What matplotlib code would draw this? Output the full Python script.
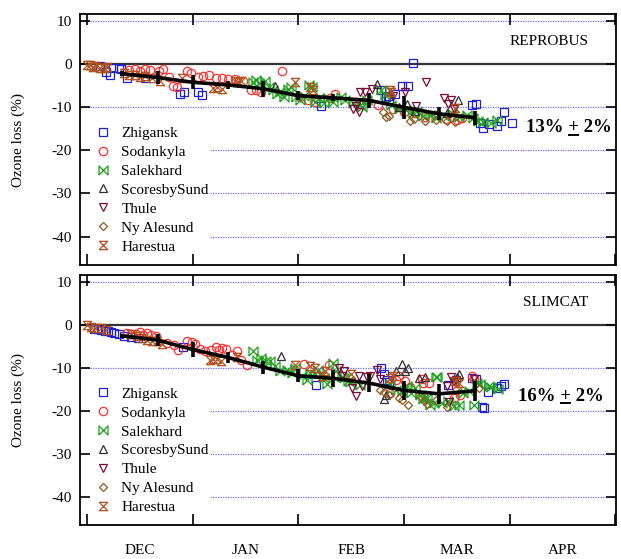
"""Ozone loss at Arctic sonde stations vs. REPROBUS / SLIMCAT passive tracer."""
import matplotlib
matplotlib.use("Agg")
import matplotlib.pyplot as plt
from matplotlib.path import Path

plt.rcParams["font.family"] = ["Liberation Serif", "DejaVu Serif"]

# x axis is in months since 1 December
month_labels = ["DEC", "JAN", "FEB", "MAR", "APR"]
month_centres = [0.5, 1.5, 2.5, 3.5, 4.5]
month_edges = [0, 1, 2, 3, 4, 5]
y_ticks = [10, 0, -10, -20, -30, -40]

stations = ["Zhigansk", "Sodankyla", "Salekhard", "ScoresbySund",
            "Thule", "Ny Alesund", "Harestua"]

# ---- REPROBUS panel (x = month, y = ozone loss %) ----
zhigansk_top = [
    [0.12, -0.5], [0.18, -2.0], [0.22, -2.7], [0.25, -1.1], [0.30, -1.0],
    [0.32, -1.2], [0.38, -3.2], [0.55, -3.2], [0.88, -7.0], [0.92, -6.5],
    [1.05, -6.5], [1.09, -7.2], [2.21, -9.8], [2.78, -6.1], [2.85, -7.5],
    [2.91, -6.9], [2.98, -5.1], [3.04, -5.1], [3.08, 0.2], [2.83, -7.8],
    [2.86, -8.2], [3.64, -9.5], [3.68, -9.3], [3.72, -13.8], [3.75, -14.9],
    [3.80, -14.0], [3.88, -14.5], [3.92, -13.2], [3.95, -11.2], [4.02, -13.7],
]
sodankyla_top = [
    [0.40, -1.5], [0.45, -1.3], [0.50, -1.6], [0.55, -1.2], [0.60, -1.4],
    [0.68, -1.8], [0.72, -1.2], [0.78, -3.0], [0.81, -5.1], [0.85, -5.3],
    [0.95, -1.8], [0.98, -2.2], [1.05, -3.0], [1.10, -2.8], [1.15, -2.6],
    [1.22, -3.4], [1.28, -3.2], [1.33, -3.6], [1.40, -3.5], [1.48, -4.0],
    [1.55, -6.2], [1.60, -6.0], [1.65, -6.5], [1.85, -1.8], [2.02, -7.8],
    [2.09, -8.5], [2.16, -8.8], [2.30, -8.0], [2.35, -6.9], [2.55, -8.8],
    [2.75, -9.5], [2.90, -10.5], [3.00, -11.2], [3.10, -11.5], [3.20, -12.3],
    [3.30, -11.8], [3.40, -12.8], [3.50, -13.0], [3.55, -12.5],
]
salekhard_top = [
    [1.57, -4.2], [1.60, -3.8], [1.63, -4.4], [1.68, -4.0], [1.72, -5.5],
    [1.76, -6.2], [1.80, -7.0], [1.83, -6.5], [1.86, -7.6], [1.90, -5.8],
    [1.93, -5.5], [1.98, -7.8], [2.02, -8.3], [2.05, -7.4], [2.10, -5.0],
    [2.13, -5.4], [2.16, -8.8], [2.20, -8.0], [2.24, -9.0], [2.28, -8.0],
    [2.33, -8.8], [2.40, -7.7], [2.44, -8.3], [2.52, -9.0], [2.58, -9.5],
    [2.60, -10.0], [2.65, -8.5], [2.78, -6.2], [2.82, -7.3], [2.88, -9.5],
    [2.95, -10.5], [3.02, -10.8], [3.08, -11.5], [3.12, -11.0], [3.18, -12.2],
    [3.25, -11.8], [3.30, -12.5], [3.38, -12.0], [3.45, -11.5], [3.52, -12.3],
    [3.60, -11.8], [3.65, -12.5], [3.70, -13.2], [3.75, -13.5], [3.82, -13.8],
    [3.88, -13.0],
]
scoresby_top = [
    [1.78, -5.2], [2.74, -4.7], [2.95, -10.0], [3.03, -9.3], [3.10, -11.0],
    [3.41, -11.5], [3.51, -8.5],
]
thule_top = [
    [2.52, -10.5], [2.55, -9.7], [2.57, -11.2], [2.58, -6.6], [2.63, -6.5],
    [2.70, -5.8], [2.90, -7.5], [3.01, -6.6], [3.11, -9.9], [3.21, -4.3],
    [3.38, -8.0], [3.42, -9.3], [3.44, -8.5], [3.47, -10.5],
]
nyalesund_top = [
    [2.80, -11.2], [2.83, -12.4], [2.86, -12.0], [3.06, -13.2], [3.09, -12.8],
    [3.20, -13.2], [3.30, -13.0], [3.41, -13.2], [3.48, -13.5],
]
harestua_top = [
    [0.00, -0.2], [0.03, -0.4], [0.06, -0.7], [0.09, -0.5], [0.12, -0.9],
    [0.16, -1.1], [0.19, -0.8], [0.35, -2.2], [0.40, -2.5], [0.45, -2.7],
    [0.50, -3.0], [0.55, -2.8], [0.62, -3.3], [0.69, -3.9], [0.90, -3.2],
    [1.19, -5.6], [1.23, -5.4], [1.28, -5.8], [1.40, -4.0], [1.43, -4.3],
    [1.46, -4.1], [1.97, -4.3], [2.11, -5.5], [2.14, -6.2], [2.87, -6.1],
    [2.88, -6.6], [3.48, -10.2],
]

# ---- SLIMCAT panel ----
zhigansk_bot = [
    [0.07, -1.0], [0.10, -1.1], [0.13, -1.3], [0.17, -1.6], [0.20, -1.5],
    [0.23, -1.8], [0.26, -2.0], [0.30, -2.3], [0.35, -2.6], [0.42, -2.8],
    [0.48, -3.0], [0.91, -5.2], [2.17, -14.0], [2.78, -10.2], [2.81, -11.6],
    [2.84, -12.9], [2.86, -13.3], [3.42, -14.0], [3.64, -12.5], [3.68, -12.6],
    [3.74, -19.1], [3.76, -19.3], [3.79, -15.6], [3.88, -14.8], [3.92, -14.2],
    [3.95, -13.8],
]
sodankyla_bot = [
    [0.38, -2.0], [0.42, -2.3], [0.46, -2.1], [0.50, -1.8], [0.53, -2.4],
    [0.57, -2.0], [0.61, -2.5], [0.65, -2.7], [0.76, -4.3], [0.82, -4.8],
    [0.86, -5.8], [0.95, -3.8], [0.99, -4.0], [1.02, -4.5], [1.07, -5.6],
    [1.12, -6.2], [1.17, -5.8], [1.22, -5.2], [1.25, -5.8], [1.28, -5.4],
    [1.32, -5.6], [1.37, -7.0], [1.42, -6.1], [1.46, -8.2], [1.51, -9.3],
    [2.05, -9.2], [2.29, -9.3], [2.87, -15.9], [2.92, -12.8], [2.95, -12.0],
    [3.01, -13.2], [3.06, -14.4], [3.17, -12.6], [3.18, -13.6], [3.24, -13.6],
    [3.47, -17.0], [3.50, -15.1], [3.53, -16.3], [3.64, -12.0], [3.66, -12.6],
]
salekhard_bot = [
    [1.57, -6.2], [1.61, -8.2], [1.65, -7.8], [1.69, -8.5], [1.73, -8.4],
    [1.78, -9.7], [1.83, -10.9], [1.89, -10.5], [1.94, -11.2], [1.97, -10.1],
    [2.03, -12.0], [2.08, -12.8], [2.11, -11.2], [2.16, -11.6], [2.19, -10.5],
    [2.24, -12.4], [2.27, -13.9], [2.33, -8.9], [2.36, -10.9], [2.41, -12.1],
    [2.43, -12.4], [2.47, -13.2], [2.49, -13.3], [2.58, -14.0], [2.87, -13.9],
    [2.92, -15.1], [2.98, -15.5], [3.03, -14.3], [3.07, -15.9], [3.10, -14.7],
    [3.15, -16.3], [3.18, -17.4], [3.22, -17.0], [3.25, -18.6], [3.28, -18.2],
    [3.30, -12.1], [3.31, -12.2], [3.36, -18.2], [3.42, -17.8], [3.47, -18.9],
    [3.52, -18.6], [3.56, -15.9], [3.61, -15.5], [3.66, -18.7], [3.69, -13.6],
    [3.72, -13.9], [3.80, -14.3], [3.82, -14.4], [3.89, -14.9],
]
scoresby_bot = [
    [1.84, -7.2], [2.81, -17.4], [2.83, -16.4], [2.92, -10.9], [2.98, -9.2],
    [3.01, -10.7], [3.04, -10.2], [3.14, -12.4], [3.20, -12.1], [3.50, -12.1],
    [3.52, -11.6],
]
thule_bot = [
    [2.38, -10.1], [2.41, -12.0], [2.43, -10.9], [2.51, -14.7], [2.55, -16.5],
    [2.57, -12.0], [2.60, -14.2], [2.65, -12.3], [2.68, -11.9], [2.74, -10.5],
    [2.77, -12.7], [3.41, -14.3], [3.43, -17.9], [3.44, -12.3], [3.47, -13.1],
    [3.49, -12.8], [3.66, -12.7],
]
nyalesund_bot = [
    [2.77, -15.1], [2.81, -15.7], [2.86, -16.3], [2.95, -17.1], [2.98, -17.5],
    [3.04, -18.6], [3.15, -16.6], [3.19, -17.7], [3.22, -18.4], [3.30, -17.5],
    [3.41, -19.1], [3.71, -14.7],
]
harestua_bot = [
    [0.00, -0.1], [0.04, -0.5], [0.08, -0.9], [0.13, -0.8], [0.18, -1.3],
    [0.42, -2.3], [0.47, -2.6], [0.52, -3.1], [0.57, -3.5], [0.62, -3.9],
    [0.66, -3.7], [0.71, -4.6], [1.16, -8.3], [1.19, -8.1], [1.23, -8.0],
    [1.27, -8.5], [1.42, -7.6], [1.97, -9.3], [2.11, -9.7], [2.16, -10.1],
    [2.22, -12.0], [2.25, -10.9], [2.50, -11.5], [2.87, -12.4], [2.90, -12.0],
    [3.48, -13.2], [3.52, -13.6],
]

# 10-day mean loss with spread
mean_x = [0.33, 0.67, 1.0, 1.33, 1.67, 2.0, 2.33, 2.67, 3.0, 3.33, 3.67]
reprobus_mean = [-2.3, -3.2, -4.3, -4.9, -5.8, -7.4, -7.9, -8.5, -10.1, -11.6, -12.5]
reprobus_err = [0.5, 1.5, 1.6, 0.9, 1.8, 1.0, 0.8, 1.8, 2.6, 1.5, 1.6]
slimcat_mean = [-2.6, -3.6, -5.8, -7.6, -9.9, -11.9, -12.5, -13.6, -15.3, -16.1, -15.4]
slimcat_err = [0.5, 1.4, 1.7, 1.3, 1.5, 1.5, 1.9, 2.0, 2.2, 2.3, 2.4]

bowtie = Path([(-1, -1), (-1, 1), (1, -1), (1, 1), (-1, -1)])
hourglass = Path([(-1, 1), (1, 1), (-1, -1), (1, -1), (-1, 1)])
styles = [
    ("s", "#1f1fd0", 5.2), ("o", "#ff3030", 6.0), (bowtie, "#1ea01e", 6.5),
    ("^", "#303030", 5.5), ("v", "#7a0a35", 5.5), ("D", "#8a5a1e", 4.2),
    (hourglass, "#b0501e", 6.0),
]

panels = [
    ("REPROBUS", "13", [zhigansk_top, sodankyla_top, salekhard_top, scoresby_top,
                        thule_top, nyalesund_top, harestua_top],
     reprobus_mean, reprobus_err, [0.528, 0.832]),
    ("SLIMCAT", "16", [zhigansk_bot, sodankyla_bot, salekhard_bot, scoresby_bot,
                       thule_bot, nyalesund_bot, harestua_bot],
     slimcat_mean, slimcat_err, [0.498, 0.817]),
]

fig = plt.figure(figsize=(6.21, 5.59), dpi=100)
ax_top = fig.add_axes([0.1288, 0.5259, 0.8631, 0.449])
ax_bot = fig.add_axes([0.1288, 0.0608, 0.8631, 0.447])

for ax, (model, pct, data, mean, err, lab_pos) in zip([ax_top, ax_bot], panels):
    ax.set_xlim(-0.066, 5.005)
    ax.set_ylim(-46.6, 11.5)

    # reference lines
    ax.axhline(0, color="#333333", lw=1.6, zorder=1)
    for yv in (10, -10):
        ax.plot([-0.066, 5.005], [yv, yv], ls=(0, (1, 1)), color="#6a6aff", lw=0.9, zorder=1)
    for yv in (-20, -30, -40):
        ax.plot([1.165, 5.005], [yv, yv], ls=(0, (1, 1)), color="#6a6aff", lw=0.9, zorder=1)

    handles = []
    for name, pts, (mk, col, ms) in zip(stations, data, styles):
        xs = [p[0] for p in pts]
        ys = [p[1] for p in pts]
        h, = ax.plot(xs, ys, ls="none", marker=mk, mfc="none", mec=col,
                     ms=ms, mew=0.9, label=name, zorder=2)
        handles.append(h)

    ax.errorbar(mean_x, mean, yerr=err, color="black", lw=2.6, elinewidth=2.6,
                capsize=0, zorder=4)

    ax.legend(handles=handles, loc="upper left", bbox_to_anchor=(0.026, 0.552),
              frameon=False, fontsize=11, handlelength=1.2, handletextpad=0.6,
              labelspacing=0.34, borderpad=0, borderaxespad=0)

    ax.text(0.948, 0.892, model, transform=ax.transAxes, ha="right", va="center",
            fontsize=11)

    # "13% + 2%" with an underlined plus
    kw = dict(transform=ax.transAxes, fontsize=13.5, fontweight="bold",
              ha="left", va="baseline")
    ax.text(lab_pos[1], lab_pos[0], f"{pct}% + 2%", **kw)
    fig.canvas.draw()
    rend = fig.canvas.get_renderer()
    part = ax.text(lab_pos[1], lab_pos[0], f"{pct}% +", **kw)
    plus = ax.text(lab_pos[1], lab_pos[0], "+", **kw)
    b_part = part.get_window_extent(rend)
    b_plus = plus.get_window_extent(rend)
    part.remove()
    plus.remove()
    base = ax.transAxes.transform((lab_pos[1], lab_pos[0]))[1] - 2.5
    inv = ax.transAxes.inverted()
    (u0, uy), (u1, _) = inv.transform([(b_part.x1 - b_plus.width + 1, base),
                                       (b_part.x1 - 1, base)])
    ax.plot([u0, u1], [uy, uy], transform=ax.transAxes, color="black", lw=1.4)

    # axes styling
    for sp in ax.spines.values():
        sp.set_linewidth(1.3)
    ax.set_yticks(y_ticks)
    ax.set_yticklabels([str(v) for v in y_ticks])
    ax.tick_params(axis="y", direction="in", left=True, right=True, length=7,
                   width=1.2, labelsize=11, pad=6)
    ax.set_xticks(month_edges)
    ax.set_xticklabels([])
    ax.set_xticks(month_centres, minor=True)
    ax.tick_params(axis="x", which="major", direction="in", top=True, bottom=True,
                   length=8, width=1.2)
    ax.tick_params(axis="x", which="minor", length=0, labelsize=11, pad=14)
    if ax is ax_bot:
        ax.set_xticklabels(month_labels, minor=True)
    else:
        ax.set_xticklabels([], minor=True)
    ax.set_ylabel("Ozone loss (%)", fontsize=11)
    ax.yaxis.set_label_coords(-0.103, 0.5)

fig.savefig("out.png", dpi=100)
